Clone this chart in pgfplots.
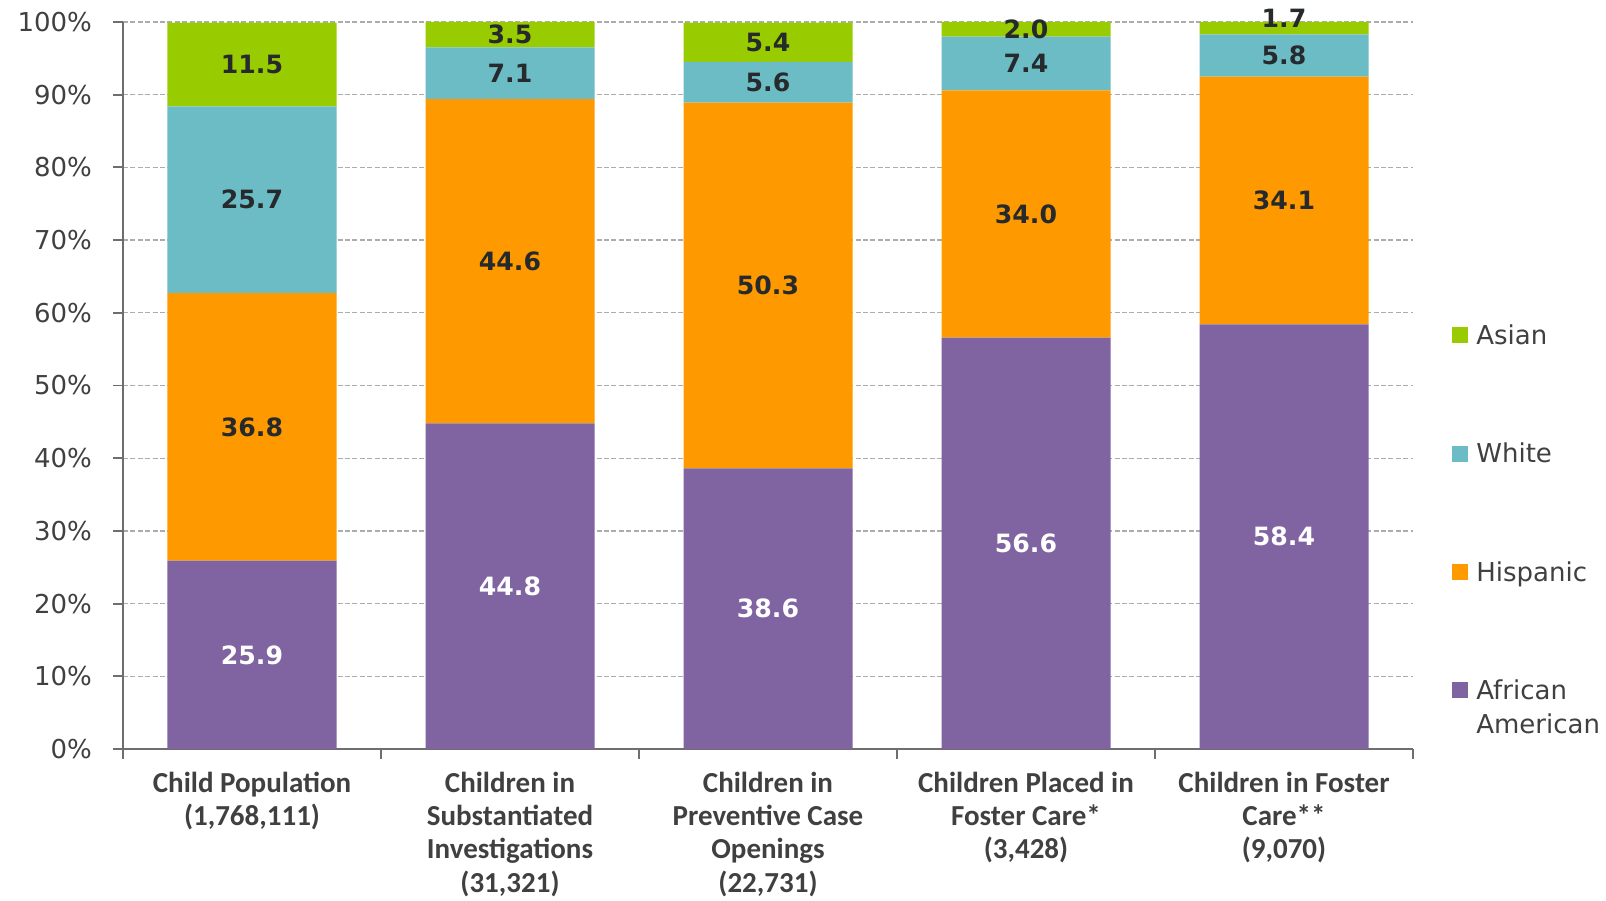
\documentclass[border=0pt]{standalone}
\usepackage{fontspec}
\setmainfont{DejaVu Sans}
\newfontfamily\catfont{Carlito}
\usepackage{pgfplots}
\usepackage{pgfplotstable}
\pgfplotsset{compat=1.18}

\definecolor{cAsian}{HTML}{99CC00}
\definecolor{cWhite}{HTML}{6CBCC6}
\definecolor{cHisp}{HTML}{FF9900}
\definecolor{cAfAm}{HTML}{8064A2}
\definecolor{tickgray}{HTML}{404040}
\definecolor{axisgray}{HTML}{6E6E6E}
\definecolor{labeldark}{HTML}{262A2C}

% Shares (%) by group: African American, Hispanic, White, Asian;
% lift = extra room (in %) for the label of a very thin top segment
\pgfplotstableread{
x aa hi wh as lift
0 25.9 36.8 25.7 11.5 0
1 44.8 44.6 7.1 3.5 0
2 38.6 50.3 5.6 5.4 0
3 56.6 34.0 7.4 2.0 0
4 58.4 34.1 5.8 1.7 1.4
}\shares

\begin{document}
\begin{tikzpicture}
\pgfplotsset{
  frame/.style={
    scale only axis, width=645pt, height=363.5pt,
    xmin=-0.5, xmax=4.5, ymin=0, ymax=100,
    at={(0,0)}, anchor=south west,
  },
}
\begin{axis}[frame,
  ybar stacked, bar width=84.5pt,
  axis x line*=bottom, axis y line*=left,
  axis line style={draw=axisgray, line width=0.9pt},
  tick align=outside, major tick length=5pt, minor tick length=5pt,
  ytick={0,10,...,100},
  yticklabels={0\%,10\%,20\%,30\%,40\%,50\%,60\%,70\%,80\%,90\%,100\%},
  yticklabel style={font=\fontsize{13}{15.6}\selectfont, text=tickgray, xshift=-7pt},
  major y tick style={draw=axisgray, line width=0.9pt},
  xtick={0,...,4},
  major x tick style={draw=none},
  minor xtick={-0.5,0.5,...,4.5},
  minor x tick style={draw=axisgray, line width=0.9pt},
  xticklabels={
    {Child Population\\(1,768,111)},
    {Children in\\Substantiated\\Investigations\\(31,321)},
    {Children in\\Preventive Case\\Openings\\(22,731)},
    {Children Placed in\\Foster Care*\\(3,428)},
    {Children in Foster\\Care**\\(9,070)}},
  xticklabel style={font=\catfont\bfseries\fontsize{14.5}{16.6}\selectfont,
    text=tickgray, align=center, anchor=north, yshift=-3pt},
  ymajorgrids,
  major grid style={draw=gray!65, dash pattern=on 2.5pt off 1.2pt, line width=0.6pt},
  reverse legend,
  legend style={at={(axis description cs:1.0302,0.5832)}, anchor=north west,
    draw=none, fill=none, inner sep=0pt, row sep=47pt, column sep=4pt,
    font=\fontsize{13}{17}\selectfont, text=tickgray,
    cells={anchor=base west},
    nodes={inner sep=0pt, text height=9.5pt, text depth=2.7pt}},
  legend image code/.code={\fill[#1, draw=none] (0pt,0.6pt) rectangle (8pt,8.6pt);},
]
\addplot[fill=cAfAm, draw=none] table[x=x, y=aa]{\shares};
\addlegendentry{\begin{tabular}[t]{@{}l@{}}African\\American\end{tabular}}
\addplot[fill=cHisp, draw=none] table[x=x, y=hi]{\shares};
\addlegendentry{Hispanic}
\addplot[fill=cWhite, draw=none] table[x=x, y=wh]{\shares};
\addlegendentry{White}
\addplot[fill=cAsian, draw=none] table[x=x, y=as]{\shares};
\addlegendentry{Asian}
\end{axis}

% value labels, centred in each segment
\begin{axis}[frame, hide axis, clip=false,
  nodes near coords={\pgfmathprintnumber[fixed, fixed zerofill, precision=1, assume math mode=true]{\pgfplotspointmeta}},
  point meta=explicit,
  every node near coord/.append style={anchor=center, inner sep=0pt,
    font=\bfseries\fontsize{12.6}{15}\selectfont, text=labeldark},
]
\addplot[draw=none, mark=none, every node near coord/.append style={text=white}]
  table[x=x, y expr=\thisrow{aa}/2, meta=aa]{\shares};
\addplot[draw=none, mark=none]
  table[x=x, y expr=\thisrow{aa}+\thisrow{hi}/2, meta=hi]{\shares};
\addplot[draw=none, mark=none]
  table[x=x, y expr=\thisrow{aa}+\thisrow{hi}+\thisrow{wh}/2, meta=wh]{\shares};
\addplot[draw=none, mark=none]
  table[x=x, y expr=\thisrow{aa}+\thisrow{hi}+\thisrow{wh}+\thisrow{as}/2+\thisrow{lift}, meta=as]{\shares};
\end{axis}

\pgfresetboundingbox
\useasboundingbox (-61.5pt,-75.5pt) rectangle (741.5pt,374.5pt);
\end{tikzpicture}
\end{document}
